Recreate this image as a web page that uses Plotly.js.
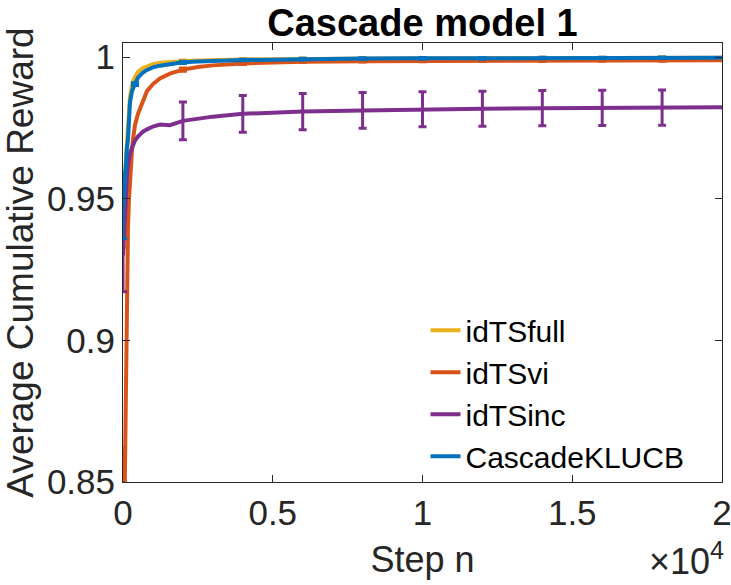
<!DOCTYPE html>
<html>
<head>
<meta charset="utf-8">
<script src="https://cdn.plot.ly/plotly-3.0.1.min.js"></script>
<style>
  html, body { margin: 0; padding: 0; background: #fff; }
  #chart { width: 731px; height: 585px; }
</style>
</head>
<body>
<div id="chart"></div>
<script>
// steps along the x axis
const steps = [1, 50, 100, 133, 167, 200, 233, 300, 333, 400, 500, 667, 800, 1000, 1233, 1567, 2000, 2500, 3000, 4000, 5000, 6000, 8000, 10000, 12000, 14000, 16000, 18000, 20000];

const idTSfull = [0.942, 0.956, 0.965, 0.970, 0.975, 0.981, 0.986, 0.990, 0.9915, 0.993, 0.9948, 0.9962, 0.9968, 0.9975, 0.998, 0.9984, 0.9986, 0.9988, 0.999, 0.9992, 0.9993, 0.9994, 0.9995, 0.9996, 0.9996, 0.9997, 0.9997, 0.9998, 0.9998];
const idTSvi = [0.80, 0.85, 0.885, 0.92, 0.94, 0.95, 0.958, 0.967, 0.971, 0.976, 0.980, 0.985, 0.988, 0.9905, 0.9925, 0.9942, 0.9956, 0.9965, 0.9971, 0.9978, 0.9982, 0.9984, 0.9986, 0.9987, 0.9988, 0.9988, 0.9989, 0.9989, 0.9989];
const idTSinc = [0.93, 0.943, 0.952, 0.958, 0.962, 0.964, 0.966, 0.968, 0.969, 0.9705, 0.972, 0.9737, 0.9745, 0.9755, 0.9762, 0.976, 0.9775, 0.9784, 0.979, 0.980, 0.9805, 0.9808, 0.9812, 0.9816, 0.9818, 0.982, 0.9821, 0.9822, 0.9823];
const cascadeKLUCB = [0.947, 0.957, 0.964, 0.968, 0.971, 0.977, 0.984, 0.988, 0.989, 0.9905, 0.9928, 0.9946, 0.9955, 0.9964, 0.997, 0.9976, 0.9982, 0.9985, 0.9987, 0.999, 0.9991, 0.9993, 0.9995, 0.9996, 0.9996, 0.9997, 0.9997, 0.9998, 0.9998];

// error bar positions and half widths
const errSteps = [1, 2000, 4000, 6000, 8000, 10000, 12000, 14000, 16000, 18000];
const idTSfullErrY = [0.942, 0.9986, 0.9992, 0.9994, 0.9995, 0.9996, 0.9996, 0.9997, 0.9997, 0.9998];
const idTSfullErr = [0.009, 0.0004, 0.0003, 0.0003, 0.0003, 0.0003, 0.0003, 0.0003, 0.0003, 0.0003];
const idTSviErrY = [0.82, 0.9956, 0.9978, 0.9984, 0.9986, 0.9987, 0.9988, 0.9988, 0.9989, 0.9989];
const idTSviErr = [0.042, 0.0006, 0.0004, 0.0003, 0.0003, 0.0003, 0.0003, 0.0003, 0.0003, 0.0003];
const idTSincErrY = [0.93, 0.9775, 0.980, 0.9808, 0.9812, 0.9816, 0.9818, 0.982, 0.9821, 0.9822];
const idTSincErr = [0.0128, 0.0067, 0.0065, 0.0064, 0.0063, 0.0062, 0.0062, 0.0062, 0.0062, 0.0062];
const klucbErrSteps = [1, 400, 2000, 4000, 6000, 8000, 10000, 12000, 14000, 16000, 18000];
const klucbErrY = [0.9475, 0.9905, 0.9982, 0.999, 0.9993, 0.9995, 0.9996, 0.9996, 0.9997, 0.9997, 0.9998];
const klucbErr = [0.0115, 0.0005, 0.0004, 0.0003, 0.0003, 0.0003, 0.0003, 0.0003, 0.0003, 0.0003, 0.0003];

const xTickVals = [0, 5000, 10000, 15000, 20000];
const xTickText = ['0', '0.5', '1', '1.5', '2'];
const yTickVals = [0.85, 0.9, 0.95, 1];
const yTickText = ['0.85', '0.9', '0.95', '1'];

const colors = { full: '#EDB120', vi: '#D95319', inc: '#7E2F8E', klucb: '#0072BD' };
const FAMILY = 'Liberation Sans, Arial, sans-serif';

function curve(y, name, color) {
  return { x: steps, y: y, name: name, type: 'scatter', mode: 'lines',
    line: { color: color, width: 4 } };
}
function bars(x, y, err, color) {
  return { x: x, y: y, type: 'scatter', mode: 'markers', showlegend: false, hoverinfo: 'skip',
    marker: { color: color, size: 1 },
    error_y: { type: 'data', array: err, visible: true, color: color, thickness: 3, width: 4 } };
}

const traces = [
  bars(errSteps, idTSfullErrY, idTSfullErr, colors.full),
  curve(idTSfull, 'idTSfull', colors.full),
  bars(errSteps, idTSviErrY, idTSviErr, colors.vi),
  curve(idTSvi, 'idTSvi', colors.vi),
  bars(errSteps, idTSincErrY, idTSincErr, colors.inc),
  curve(idTSinc, 'idTSinc', colors.inc),
  bars(klucbErrSteps, klucbErrY, klucbErr, colors.klucb),
  curve(cascadeKLUCB, 'CascadeKLUCB', colors.klucb)
];

const layout = {
  width: 731, height: 585,
  margin: { l: 123, r: 9, t: 43, b: 103 },
  paper_bgcolor: '#fff', plot_bgcolor: '#fff',
  font: { family: FAMILY, size: 35, color: '#262626' },
  title: { text: '<b>Cascade model 1</b>', font: { family: FAMILY, size: 38, color: '#000' },
    x: 0.5, xanchor: 'center', y: 0.962, yanchor: 'middle', xref: 'paper', yref: 'container' },
  xaxis: {
    range: [0, 20000], tickvals: xTickVals, ticktext: xTickText,
    ticks: 'inside', ticklen: 7, tickcolor: '#262626', mirror: 'ticks',
    showline: true, linecolor: '#262626', linewidth: 1, showgrid: false, zeroline: false,
    ticklabeloverflow: 'allow',
    tickfont: { family: FAMILY, size: 35, color: '#262626' },
    title: { text: 'Step n', font: { family: FAMILY, size: 36, color: '#262626' }, standoff: 15 }
  },
  yaxis: {
    range: [0.85, 1.005], tickvals: yTickVals, ticktext: yTickText,
    ticks: 'inside', ticklen: 7, tickcolor: '#262626', mirror: 'ticks',
    showline: true, linecolor: '#262626', linewidth: 1, showgrid: false, zeroline: false,
    ticklabeloverflow: 'allow',
    tickfont: { family: FAMILY, size: 35, color: '#262626' },
    title: { text: 'Average Cumulative Reward', font: { family: FAMILY, size: 37, color: '#262626' }, standoff: 2 }
  },
  legend: {
    x: 0.505, y: 0.405, xanchor: 'left', yanchor: 'top', yref: 'paper',
    bgcolor: 'rgba(0,0,0,0)', borderwidth: 0,
    font: { family: FAMILY, size: 30, color: '#000' },
    tracegroupgap: 0
  },
  annotations: [{
    text: '×10<sup>4</sup>', xref: 'paper', yref: 'paper', x: 1.006, y: -0.232, xanchor: 'right', yanchor: 'bottom',
    showarrow: false, font: { family: FAMILY, size: 36, color: '#262626' }
  }],
  showlegend: true
};

Plotly.newPlot('chart', traces, layout, { displayModeBar: false, staticPlot: true });
</script>
</body>
</html>
